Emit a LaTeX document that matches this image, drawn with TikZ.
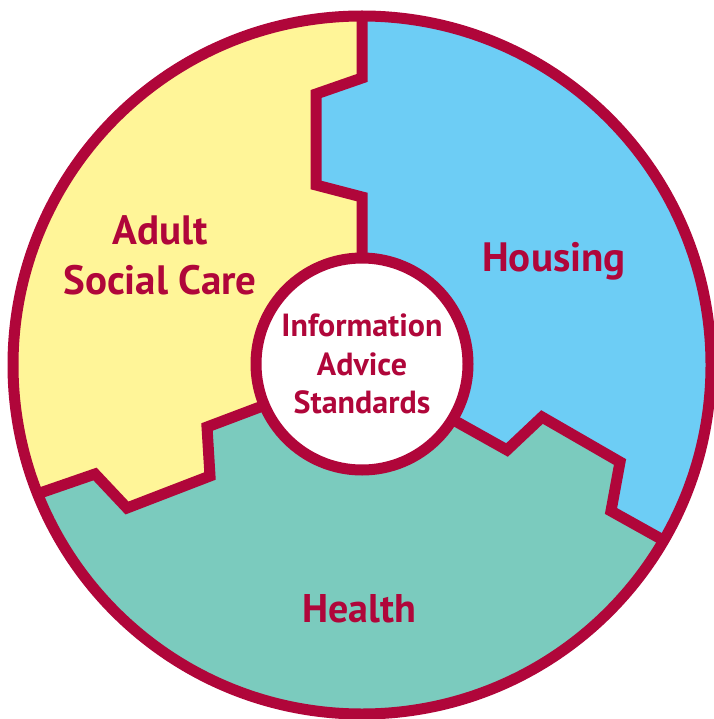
\documentclass[tikz,border=0pt]{standalone}
\usepackage{fontspec}
\setmainfont{PT Sans}
\definecolor{crim}{RGB}{176,6,58}
\definecolor{ylw}{RGB}{255,245,152}
\definecolor{sky}{RGB}{109,205,245}
\definecolor{tealg}{RGB}{123,203,190}
\begin{document}
\begin{tikzpicture}[x=1pt,y=-1pt,line join=miter,
  seam/.style={draw=crim,line width=11pt},
  lbl/.style={text=crim,align=center,inner sep=0pt}]
\useasboundingbox (0,0) rectangle (713,719);
\coordinate (C) at (362,365);
\fill[tealg] (C) circle[radius=349];
\begin{scope}
  \clip (C) circle[radius=349];
  \fill[ylw] (362,-10) -- (362,78) -- (316,94) -- (316,185) -- (362,197) -- (C)
    -- (260,407) -- (207,427) -- (210,476) -- (127,508) -- (95,474) -- (40,493)
    -- (-20,514) -- (-20,-10) -- cycle;
  \fill[sky] (362,-10) -- (362,78) -- (316,94) -- (316,185) -- (362,197) -- (C)
    -- (457,422) -- (507,450) -- (542,417) -- (620,462) -- (611,511) -- (663,540)
    -- (730,577) -- (730,-10) -- cycle;
  \draw[seam] (362,0) -- (362,78) -- (316,94) -- (316,185) -- (362,197) -- (362,300);
  \draw[seam] (10,503) -- (40,493) -- (95,474) -- (127,508) -- (210,476) -- (207,427) -- (260,407) -- (300,392);
  \draw[seam] (420,401) -- (457,422) -- (507,450) -- (542,417) -- (620,462) -- (611,511) -- (663,540) -- (700,561);
\end{scope}
\draw[crim,line width=11pt] (C) circle[radius=349];
\node[circle,fill=white,draw=crim,line width=11pt,minimum size=212pt,inner sep=0pt,
  text=crim,align=center,font=\bfseries\fontsize{32}{38.5}\selectfont] (hub) at (362,364)
  {Information\\Advice\\Standards};
\node[lbl,font=\bfseries\fontsize{41}{50}\selectfont] (asc) at (160,255) {Adult\\Social Care};
\node[lbl,font=\bfseries\fontsize{41}{48}\selectfont,anchor=base] (hous) at (554,271) {Housing};
\node[lbl,font=\bfseries\fontsize{40}{48}\selectfont,anchor=base] (hlth) at (359,622) {Health};
\end{tikzpicture}
\end{document}
